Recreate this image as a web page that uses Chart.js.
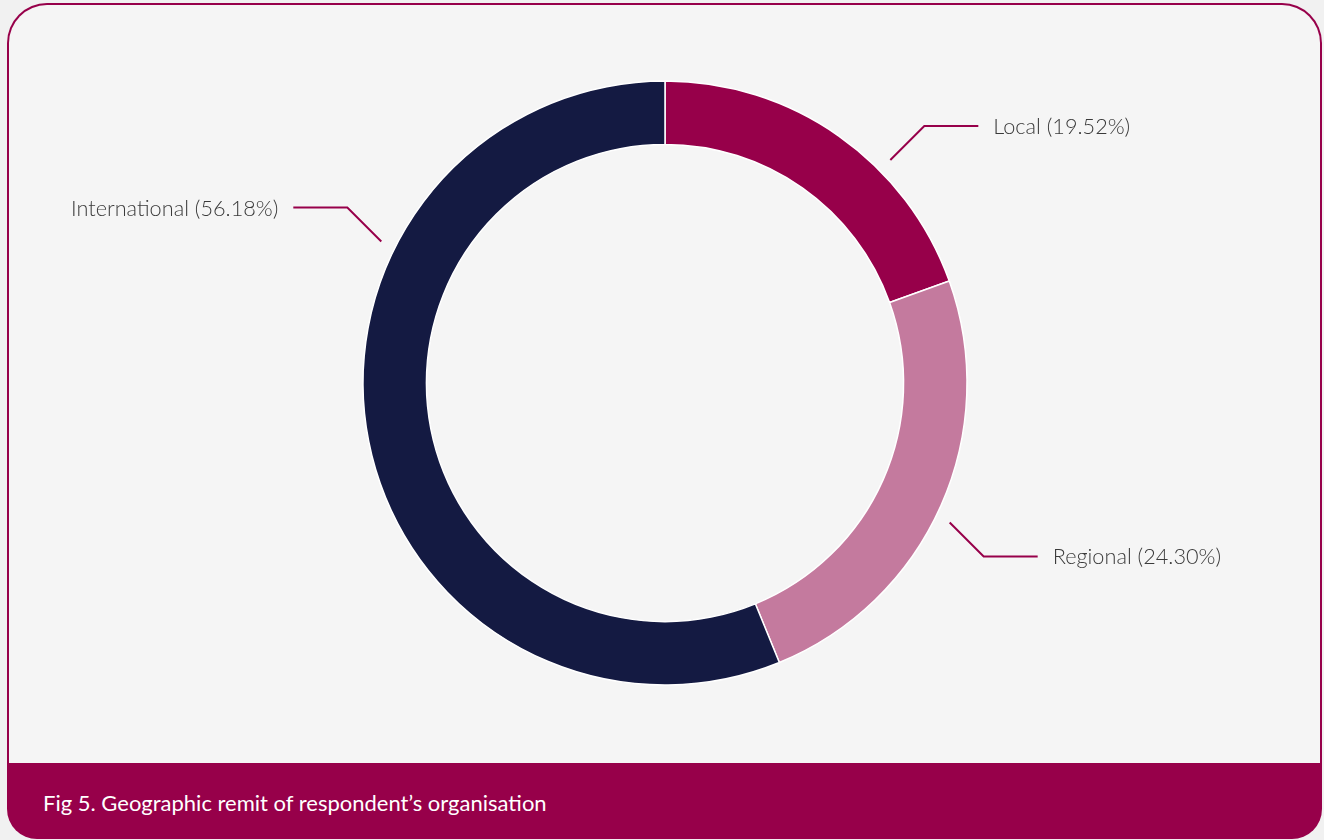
<!DOCTYPE html>
<html>
<head>
<meta charset="utf-8">
<script src="https://cdn.jsdelivr.net/npm/chart.js@4.4.0/dist/chart.umd.min.js"></script>
<style>
  html, body { margin: 0; padding: 0; }
  body { width: 1324px; height: 840px; background: #f1f1f1; position: relative; overflow: hidden; }
  .card {
    position: absolute; left: 7px; top: 3px; width: 1315px; height: 836px;
    background: #97004a; border-radius: 40px 40px 30px 30px; overflow: hidden;
  }
  .panel {
    position: absolute; left: 2px; top: 2px; right: 2px; height: 758px;
    background: #f5f5f5; border-radius: 38px 38px 0 0;
  }
  .caption {
    position: absolute; left: 36px; top: 786px;
    font-family: Lato, sans-serif; font-size: 22px; color: #ffffff;
  }
  .chart-box { position: absolute; left: 0; top: 0; width: 1324px; height: 766px; }
</style>
</head>
<body>
<div class="card">
  <div class="panel"></div>
  <div class="caption">Fig 5. Geographic remit of respondent’s organisation</div>
</div>
<div class="chart-box"><canvas id="remit"></canvas></div>
<script>
const labels = ['Local', 'Regional', 'International']
const values = [19.52, 24.30, 56.18]
const colors = ['#97004a', '#c47a9e', '#141a42']

// leader lines: elbow line from the ring out to the label
const leaderLabels = {
  id: 'leaderLabels',
  afterDatasetsDraw(chart, args, opts) {
    const ctx = chart.ctx
    const arcs = chart.getDatasetMeta(0).data
    ctx.save()
    ctx.font = opts.font
    ctx.textBaseline = 'middle'
    arcs.forEach((arc, i) => {
      const a = opts.angles[i] * Math.PI / 180
      const r = arc.outerRadius + opts.gap
      const x0 = arc.x + Math.sin(a) * r
      const y0 = arc.y - Math.cos(a) * r
      const sx = Math.sin(a) >= 0 ? 1 : -1
      const sy = Math.cos(a) >= 0 ? -1 : 1
      const x1 = x0 + sx * opts.diag
      const y1 = y0 + sy * opts.diag
      const x2 = x1 + sx * opts.run
      ctx.strokeStyle = opts.lineColor
      ctx.lineWidth = 2
      ctx.beginPath()
      ctx.moveTo(x0, y0)
      ctx.lineTo(x1, y1)
      ctx.lineTo(x2, y1)
      ctx.stroke()
      ctx.fillStyle = opts.color
      ctx.textAlign = sx > 0 ? 'left' : 'right'
      const text = labels[i] + ' (' + values[i].toFixed(2) + '%)'
      ctx.fillText(text, x2 + sx * opts.pad, y1 + 1)
    })
    ctx.restore()
  }
}

new Chart('remit', {
  type: 'doughnut',
  data: {
    labels: labels,
    datasets: [{
      data: values,
      backgroundColor: colors,
      borderColor: '#ffffff',
      borderWidth: 1.5
    }]
  },
  options: {
    responsive: true,
    maintainAspectRatio: false,
    animation: false,
    radius: 302,
    cutout: 238,
    layout: { padding: { top: 81, bottom: 81, left: 200, right: 194 } },
    plugins: {
      legend: { display: false },
      tooltip: { enabled: false },
      leaderLabels: {
        angles: [45.3, 116.1, 296.5],
        gap: 15,
        diag: 34,
        run: 54,
        pad: 15,
        lineColor: '#97004a',
        color: '#3a3a3a',
        font: '300 21.7px Lato'
      }
    }
  },
  plugins: [leaderLabels]
})
</script>
</body>
</html>
